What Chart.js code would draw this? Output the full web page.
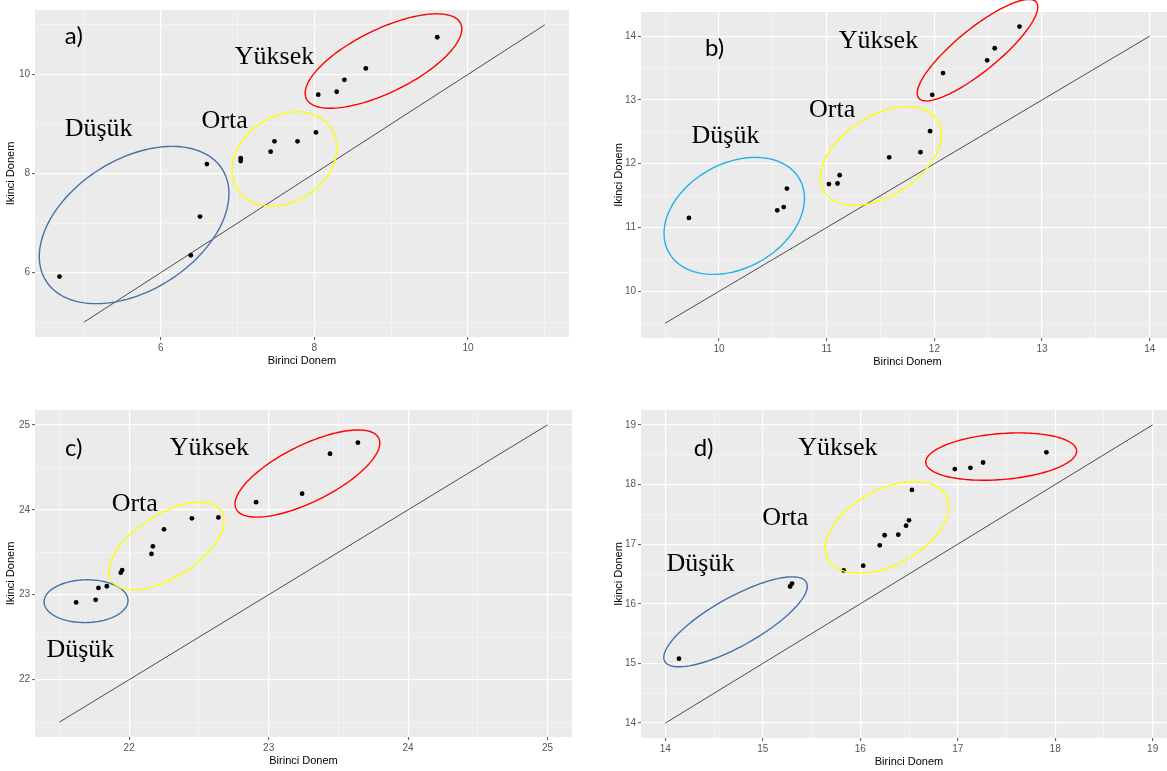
<!DOCTYPE html>
<html>
<head>
<meta charset="utf-8">
<script src="https://cdn.jsdelivr.net/npm/chart.js@4.4.1/dist/chart.umd.min.js"></script>
<style>
  html, body { margin: 0; padding: 0; background: #fff; overflow: hidden; width: 1167px; height: 771px; }
  canvas { position: absolute; }
</style>
</head>
<body>
<canvas id="pa" width="575" height="370" style="left:0px;top:0px"></canvas>
<canvas id="pb" width="572" height="371" style="left:608px;top:0px"></canvas>
<canvas id="pc" width="578" height="375" style="left:0px;top:395px"></canvas>
<canvas id="pd" width="575" height="376" style="left:608px;top:395px"></canvas>
<script>
// panel a
const aX = [4.68, 6.39, 6.51, 6.60, 7.04, 7.04, 7.43, 7.48, 7.78, 8.02, 8.05, 8.29, 8.39, 8.67, 9.60];
const aY = [5.92, 6.35, 7.13, 8.19, 8.31, 8.25, 8.44, 8.65, 8.65, 8.83, 9.59, 9.65, 9.89, 10.12, 10.75];
const aLine = [5, 11];
const aMajor = [6, 8, 10];
const aMinor = [5, 7, 9, 11];

// panel b
const bX = [9.72, 10.54, 10.60, 10.63, 11.02, 11.10, 11.12, 11.58, 11.87, 11.96, 11.98, 12.08, 12.49, 12.56, 12.79];
const bY = [11.15, 11.27, 11.32, 11.61, 11.68, 11.69, 11.82, 12.10, 12.18, 12.51, 13.08, 13.42, 13.62, 13.81, 14.15];
const bLine = [9.5, 14];
const bMajor = [10, 11, 12, 13, 14];
const bMinor = [9.5, 10.5, 11.5, 12.5, 13.5];

// panel c
const cX = [21.62, 21.76, 21.78, 21.84, 21.94, 21.95, 22.16, 22.17, 22.25, 22.45, 22.64, 22.91, 23.24, 23.44, 23.64];
const cY = [22.91, 22.94, 23.08, 23.10, 23.26, 23.29, 23.48, 23.57, 23.77, 23.90, 23.91, 24.09, 24.19, 24.66, 24.79];
const cLine = [21.5, 25];
const cMajor = [22, 23, 24, 25];
const cMinor = [21.5, 22.5, 23.5, 24.5];

// panel d
const dX = [14.14, 15.28, 15.30, 15.83, 16.03, 16.20, 16.25, 16.39, 16.47, 16.50, 16.53, 16.97, 17.13, 17.26, 17.91];
const dY = [15.08, 16.29, 16.34, 16.56, 16.64, 16.98, 17.15, 17.16, 17.31, 17.40, 17.91, 18.26, 18.28, 18.37, 18.54];
const dLine = [14, 19];
const dMajor = [14, 15, 16, 17, 18, 19];
const dMinor = [14.5, 15.5, 16.5, 17.5, 18.5];

const groupNames = ['Yüksek', 'Orta', 'Düşük'];
const xTitle = 'Birinci Donem';
const yTitle = 'Ikinci Donem';

const BLUE = '#4472A8', CYAN = '#1FAFEE', YELLOW = '#FFFF00', RED = '#FF0000';

// ellipse: centre, half width / half height (data units), k = where the top point sits (-1..1)
function decor(ellipses, labels) {
  return {
    id: 'decor',
    beforeDraw(chart) {
      const { ctx, chartArea: a } = chart;
      ctx.save();
      ctx.fillStyle = '#EBEBEB';
      ctx.fillRect(a.left, a.top, a.right - a.left, a.bottom - a.top);
      ctx.restore();
    },
    afterDatasetsDraw(chart) {
      const { ctx } = chart;
      const xs = chart.scales.x, ys = chart.scales.y;
      ctx.save();
      ellipses.forEach(e => {
        const phi = Math.acos(e.k);
        ctx.beginPath();
        for (let i = 0; i <= 160; i++) {
          const t = i / 160 * Math.PI * 2;
          const px = xs.getPixelForValue(e.cx + e.w * Math.cos(t));
          const py = ys.getPixelForValue(e.cy + e.h * Math.cos(t - phi));
          if (i === 0) ctx.moveTo(px, py); else ctx.lineTo(px, py);
        }
        ctx.closePath();
        ctx.strokeStyle = e.color;
        ctx.lineWidth = 1.4;
        ctx.stroke();
      });
      labels.forEach(l => {
        ctx.fillStyle = '#000';
        ctx.font = l.font;
        ctx.textAlign = l.align;
        ctx.textBaseline = l.base;
        ctx.fillText(l.text, xs.getPixelForValue(l.x), ys.getPixelForValue(l.y));
      });
      ctx.restore();
    }
  };
}

function axis(min, max, major, minor, title, fitSize, horizontal) {
  const isMajor = v => major.some(m => Math.abs(m - v) < 1e-6);
  return {
    type: 'linear',
    min: min,
    max: max,
    afterBuildTicks: s => {
      s.ticks = major.concat(minor).sort((p, q) => p - q).map(v => ({ value: v }));
    },
    afterFit: s => {
      if (horizontal) s.height = fitSize; else s.width = fitSize;
    },
    border: { display: false },
    grid: {
      color: c => isMajor(c.tick.value) ? '#FFFFFF' : '#F5F5F5',
      lineWidth: c => isMajor(c.tick.value) ? 1.2 : 0.8,
      tickColor: c => isMajor(c.tick.value) ? '#555555' : 'rgba(0,0,0,0)',
      tickLength: 3,
      tickWidth: 1
    },
    ticks: {
      autoSkip: false,
      maxRotation: 0,
      padding: 2,
      color: '#555555',
      font: { family: 'Liberation Sans', size: 10 },
      callback: v => isMajor(v) ? String(v) : ''
    },
    title: {
      display: true,
      text: title,
      color: '#000',
      font: { family: 'Liberation Sans', size: 11 },
      padding: horizontal ? { top: 2, bottom: 2 } : { top: 4, bottom: 4 }
    }
  };
}

function panel(id, xs, ys, line, major, minor, xr, yr, yw, padTop, padRight, ellipses, labels) {
  const pts = xs.map((v, i) => ({ x: v, y: ys[i] }));
  new Chart(document.getElementById(id), {
    type: 'scatter',
    data: {
      datasets: [
        {
          type: 'line',
          data: [{ x: line[0], y: line[0] }, { x: line[1], y: line[1] }],
          borderColor: '#222',
          borderWidth: 0.8,
          pointRadius: 0
        },
        {
          data: pts,
          backgroundColor: '#000',
          borderWidth: 0,
          pointRadius: 2.4
        }
      ]
    },
    options: {
      responsive: false,
      animation: false,
      devicePixelRatio: 1,
      layout: { padding: { top: padTop, right: padRight, left: 0, bottom: 0 } },
      plugins: { legend: { display: false }, tooltip: { enabled: false } },
      scales: {
        x: axis(xr[0], xr[1], major, minor, xTitle, 33, true),
        y: axis(yr[0], yr[1], major, minor, yTitle, yw, false)
      }
    },
    plugins: [decor(ellipses, labels)]
  });
}

const SERIF = '26px "Liberation Serif"';
const SANS = '24px Lato';

panel('pa', aX, aY, aLine, aMajor, aMinor, [4.361, 11.316], [4.7, 11.3], 35, 10, 6,
  [
    { cx: 5.652, cy: 6.96, w: 1.235, h: 1.587, k: 0.40, color: BLUE },
    { cx: 7.609, cy: 8.293, w: 0.683, h: 0.953, k: 0.24, color: YELLOW },
    { cx: 8.90, cy: 10.27, w: 1.02, h: 0.953, k: 0.68, color: RED }
  ],
  [
    { text: 'a)', x: 4.75, y: 10.77, font: SANS, align: 'left', base: 'middle' },
    { text: groupNames[0], x: 7.48, y: 10.21, font: SERIF, align: 'center', base: 'alphabetic' },
    { text: groupNames[1], x: 6.83, y: 8.91, font: SERIF, align: 'center', base: 'alphabetic' },
    { text: groupNames[2], x: 5.19, y: 8.76, font: SERIF, align: 'center', base: 'alphabetic' }
  ]);

panel('pb', bX, bY, bLine, bMajor, bMinor, [9.275, 14.225], [9.268, 14.378], 33, 12, 6,
  [
    { cx: 10.141, cy: 11.182, w: 0.652, h: 0.917, k: 0.30, color: CYAN },
    { cx: 11.503, cy: 12.122, w: 0.562, h: 0.773, k: 0.44, color: YELLOW },
    { cx: 12.40, cy: 13.78, w: 0.56, h: 0.795, k: 0.85, color: RED }
  ],
  [
    { text: 'b)', x: 9.87, y: 13.81, font: SANS, align: 'left', base: 'middle' },
    { text: groupNames[0], x: 11.48, y: 13.81, font: SERIF, align: 'center', base: 'alphabetic' },
    { text: groupNames[1], x: 11.05, y: 12.73, font: SERIF, align: 'center', base: 'alphabetic' },
    { text: groupNames[2], x: 10.06, y: 12.33, font: SERIF, align: 'center', base: 'alphabetic' }
  ]);

panel('pc', cX, cY, cLine, cMajor, cMinor, [21.325, 25.175], [21.325, 25.175], 35, 15, 6,
  [
    { cx: 21.691, cy: 22.924, w: 0.301, h: 0.252, k: 0.03, color: BLUE },
    { cx: 22.268, cy: 23.574, w: 0.413, h: 0.515, k: 0.58, color: YELLOW },
    { cx: 23.278, cy: 24.427, w: 0.519, h: 0.513, k: 0.70, color: RED }
  ],
  [
    { text: 'c)', x: 21.54, y: 24.72, font: SANS, align: 'left', base: 'middle' },
    { text: groupNames[0], x: 22.575, y: 24.64, font: SERIF, align: 'center', base: 'alphabetic' },
    { text: groupNames[1], x: 22.04, y: 23.98, font: SERIF, align: 'center', base: 'alphabetic' },
    { text: groupNames[2], x: 21.65, y: 22.27, font: SERIF, align: 'center', base: 'alphabetic' }
  ]);

panel('pd', dX, dY, dLine, dMajor, dMinor, [13.75, 19.25], [13.75, 19.25], 33, 15, 6,
  [
    { cx: 14.72, cy: 15.698, w: 0.736, h: 0.754, k: 0.79, color: BLUE },
    { cx: 16.274, cy: 17.282, w: 0.633, h: 0.768, k: 0.45, color: YELLOW },
    { cx: 17.446, cy: 18.469, w: 0.774, h: 0.397, k: 0.23, color: RED }
  ],
  [
    { text: 'd)', x: 14.29, y: 18.615, font: SANS, align: 'left', base: 'middle' },
    { text: groupNames[0], x: 15.77, y: 18.50, font: SERIF, align: 'center', base: 'alphabetic' },
    { text: groupNames[1], x: 15.23, y: 17.32, font: SERIF, align: 'center', base: 'alphabetic' },
    { text: groupNames[2], x: 14.36, y: 16.55, font: SERIF, align: 'center', base: 'alphabetic' }
  ]);
</script>
</body>
</html>
